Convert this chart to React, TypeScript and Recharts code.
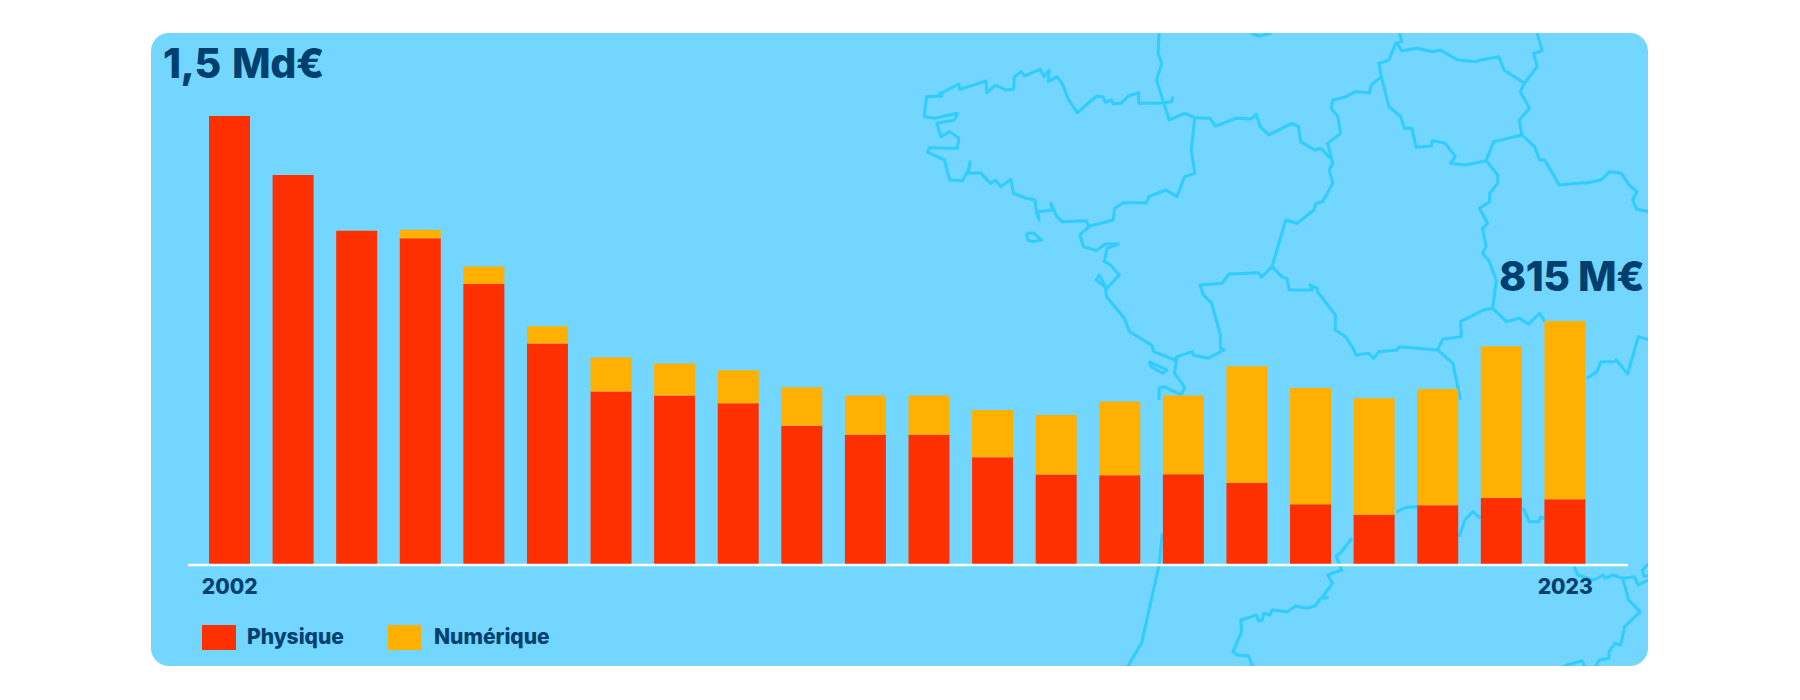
import { Bar, BarChart, Legend, XAxis, YAxis } from "recharts";

const years = [
  2002, 2003, 2004, 2005, 2006, 2007, 2008, 2009, 2010, 2011, 2012, 2013, 2014,
  2015, 2016, 2017, 2018, 2019, 2020, 2021, 2022, 2023,
];
// M€
const physique = [
  1500, 1303, 1117, 1092, 939, 740, 580, 566, 540, 465, 435, 435, 360, 302, 300,
  303, 274, 203, 168, 200, 224, 220,
];
const numerique = [
  0, 0, 0, 28, 58, 58, 113, 107, 111, 129, 131, 131, 158, 199, 246, 263, 390,
  388, 389, 388, 507, 595,
];
const tickYears = [2002, 2023];

const data = years.map((year, i) => ({
  year,
  physique: physique[i],
  numerique: numerique[i],
}));

const NAVY = "#003f6e";
const RED = "#ff3000";
const ORANGE = "#ffb000";
const FONT = "Inter, sans-serif";

// background map, decoration only (traced in two local coordinate systems)
const mapUpper = [
  "145,290 150,230 180,228 175,222 213,192 215,208 266,183 268,218 285,195 305,210 320,208 322,170 335,155 342,168 372,148 380,170 390,150 388,185 405,170 415,190 428,240 445,278 483,228 495,230 500,247 512,240 515,252 530,250 545,228 565,218 565,250 605,250 630,245 632,230",
  "145,290 165,295 210,280 205,300 170,310 178,350 195,335 213,355 210,385 155,383 152,397 185,420 195,480 220,482 232,450 235,425 232,460 255,458 275,490 285,480 295,500 315,478 320,520 345,535 362,540 365,575 370,600 368,575 395,570 393,550 405,590 415,605 462,602 468,620 450,645 457,680 482,692 500,672 525,672 503,685 498,725 510,735 527,765 503,805 482,780 488,765 500,800 502,830 537,895 547,935 590,975 595,995 635,1020 640,1010 670,995 672,1005 700,1015 732,990 725,985 725,945 708,850 692,825 685,795 728,790 742,762 800,758 805,772 826,740 853,600 875,610 908,570 912,550 925,545 945,490 938,450 945,430 935,370 960,340 955,290 942,265 945,240 968,232 990,215 1017,218 1020,195 1040,170 1035,130 1055,120 1068,70 1080,65 1075,40",
  "675,293 670,360 668,390 675,460 655,470 640,530 618,510 585,530 580,548 535,548 518,565 515,600 465,620",
  "605,40 603,100 610,130 600,180 610,230 625,300 655,280 675,293 705,295 715,318 730,310 755,295 785,297 795,283 803,320 820,345 865,310 878,320 882,365 910,390 922,385 940,415",
  "1040,170 1055,260 1078,290 1085,325 1100,325 1108,382 1138,378 1140,362 1165,370 1185,410 1175,430 1205,435 1245,422 1260,365 1315,345",
  "1315,345 1310,300 1330,265 1312,215 1320,190 1345,140 1338,100 1355,92 1345,40",
  "1320,190 1280,150 1270,110 1235,120 1225,125 1190,120 1155,90 1140,95 1110,85 1080,92 1070,70",
  "1315,345 1340,380 1350,420 1360,420 1388,495 1435,488 1440,490 1470,480 1487,455 1510,460 1525,495 1540,515 1532,540 1540,568 1565,575",
  "1245,422 1268,465 1268,490 1252,520 1252,545 1232,565 1248,610 1238,625 1245,680 1238,700 1250,720 1265,780 1258,865 1240,870 1195,905 1197,950 1160,958 1150,990 1075,980 1070,990 1035,995 1025,1015 1015,1000 990,1005 985,985 970,950 950,930 950,885 915,815 915,805 900,795 905,810 860,810 855,775 845,770 826,740",
  "1258,865 1285,905 1310,895 1328,912 1350,880 1360,905",
  "1442,1075 1462,1055 1470,1025 1495,1025 1500,1020 1522,1062 1543,950 1565,960",
  "1150,990 1180,1030 1195,1140",
  "345,640 360,640 375,660 358,665 348,660 345,640",
  "585,1025 620,1050 612,1060 590,1040 585,1025",
  "640,1010 635,1060 650,1090 655,1105 648,1125 615,1100 605,1105 605,1140",
  "785,40 800,48 825,40",
];
const mapLower = [
  "288,100 280,195 235,430 200,498",
  "775,115 745,160 735,168 748,210 713,225 725,250 700,290 712,293 695,295 680,318 660,325 630,318 610,335 570,330 565,345 548,340 545,360 535,363 530,345 490,360 492,395 470,455 480,465 510,468 520,498",
  "890,35 915,22 945,20",
  "1050,110 1065,60 1085,35 1105,55",
  "1215,25 1230,65 1255,65 1258,52 1270,55",
  "1345,200 1355,225 1395,240 1420,225 1425,235 1445,225 1470,235 1500,230 1510,255 1535,240",
  "1470,235 1485,300 1515,335 1475,380 1465,435 1450,430 1435,455 1435,475 1410,480 1400,498",
  "1320,498 1365,482 1372,498",
  "1538,190 1520,210 1525,230 1538,225",
];

function MapLines({ lines, transform }: { lines: string[]; transform: string }) {
  return (
    <g transform={transform}>
      {lines.map((points, i) => (
        <polyline
          key={i}
          points={points}
          fill="none"
          stroke="#30cbff"
          strokeWidth={3}
          strokeLinejoin="round"
          vectorEffect="non-scaling-stroke"
        />
      ))}
    </g>
  );
}

function LegendContent() {
  const items = [
    { name: "Physique", color: RED, width: 34, textLeft: 45, left: 0 },
    { name: "Numérique", color: ORANGE, width: 33, textLeft: 46, left: 186 },
  ];
  return (
    <div style={{ position: "relative", width: 360, height: 26 }}>
      {items.map((item) => (
        <div key={item.name}>
          <div
            style={{
              position: "absolute",
              left: item.left,
              top: 0,
              width: item.width,
              height: 25,
              background: item.color,
            }}
          />
          <div
            style={{
              position: "absolute",
              left: item.left + item.textLeft,
              top: -1,
              lineHeight: "25px",
              fontFamily: FONT,
              fontSize: 21,
              fontWeight: 800,
              color: NAVY,
            }}
          >
            {item.name}
          </div>
        </div>
      ))}
    </div>
  );
}

function BigLabel({ left, top, text, gap }: { left: number; top: number; text: string; gap: number }) {
  return (
    <div
      style={{
        position: "absolute",
        left,
        top,
        fontFamily: FONT,
        fontSize: 41,
        fontWeight: 800,
        lineHeight: "50px",
        letterSpacing: -0.5,
        wordSpacing: gap,
        color: NAVY,
        whiteSpace: "nowrap",
      }}
    >
      {text}
    </div>
  );
}

export default function App() {
  return (
    <div style={{ position: "absolute", left: 0, top: 0, width: 1800, height: 700, background: "#fff", overflow: "hidden" }}>
      <div
        style={{
          position: "absolute",
          left: 151,
          top: 33,
          width: 1497,
          height: 633,
          borderRadius: 18,
          background: "#72d6ff",
          overflow: "hidden",
        }}
      >
        <svg width={1497} height={633} style={{ position: "absolute", left: 0, top: 0 }}>
          <g transform="translate(-151 -33)">
            <MapLines lines={mapUpper} transform="translate(850 20) scale(0.5109 0.3333)" />
            <MapLines lines={mapLower} transform="translate(1050 500) scale(0.3896 0.3333)" />
          </g>
        </svg>
      </div>
      <div style={{ position: "absolute", left: 0, top: 0 }}>
        <BarChart
          width={1800}
          height={700}
          data={data}
          margin={{ top: 116, right: 172, bottom: 65, left: 188 }}
        >
          <XAxis
            dataKey="year"
            ticks={tickYears}
            interval={0}
            height={40}
            padding={{ left: 10, right: 31 }}
            axisLine={{ stroke: "#ffffff", strokeWidth: 2.5 }}
            tickLine={false}
            tick={{ fill: NAVY, fontSize: 21, fontWeight: 800, fontFamily: FONT }}
            tickMargin={8}
          />
          <YAxis hide domain={[0, 1500]} />
          <Legend
            height={30}
            content={<LegendContent />}
            wrapperStyle={{ left: 202, top: 625, bottom: "auto", width: 360 }}
          />
          <Bar dataKey="physique" name="Physique" stackId="a" barSize={41} fill={RED} isAnimationActive={false} />
          <Bar dataKey="numerique" name="Numérique" stackId="a" barSize={41} fill={ORANGE} isAnimationActive={false} />
        </BarChart>
      </div>
      <BigLabel left={163} top={38} text="1,5 Md€" gap={3} />
      <BigLabel left={1499} top={251} text="815 M€" gap={0} />
    </div>
  );
}
